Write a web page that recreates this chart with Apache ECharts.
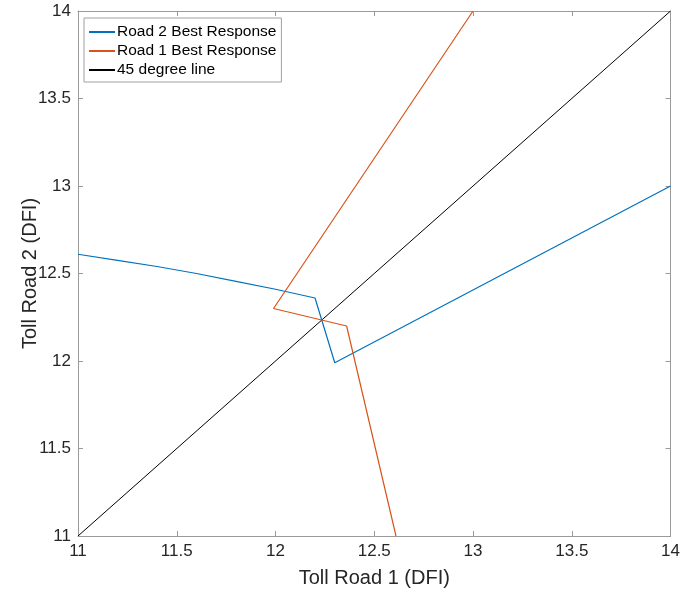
<!DOCTYPE html>
<html>
<head>
<meta charset="utf-8">
<script src="https://cdn.jsdelivr.net/npm/echarts@6/dist/echarts.min.js"></script>
<style>
  html, body { margin: 0; padding: 0; background: #fff; }
  #chart { width: 683px; height: 593px; }
</style>
</head>
<body>
<div id="chart"></div>
<script>
// Best-response curves of the two toll roads (tolls in DFl)
const seriesNames = ['Road 2 Best Response', 'Road 1 Best Response', '45 degree line'];

const road2X = [11.0, 11.2, 11.4, 11.6, 11.8, 12.0, 12.2, 12.3, 14.0];
const road2Y = [12.61, 12.575, 12.54, 12.50, 12.455, 12.41, 12.36, 11.99, 13.0];

const road1X = [13.0, 11.99, 12.36, 12.61];
const road1Y = [14.0, 12.30, 12.20, 11.0];

const diagX = [11, 14];
const diagY = [11, 14];

const tickLabels = ['11', '11.5', '12', '12.5', '13', '13.5', '14'];

const colors = ['#0072BD', '#D95319', '#000000'];

const pairs = (xs, ys) => xs.map((x, i) => [x, ys[i]]);

const font = 'Liberation Sans, Arial, Helvetica, sans-serif';
const axisGrey = '#9a9a9a';
const textColor = '#262626';

function axisBase(position, showLabels, name, extra) {
  return Object.assign({
    type: 'value',
    position: position,
    min: 11,
    max: 14,
    interval: 0.5,
    axisLine: { show: true, onZero: false, lineStyle: { color: axisGrey, width: 1 } },
    axisTick: { show: true, inside: true, length: 5, lineStyle: { color: axisGrey, width: 1 } },
    splitLine: { show: false },
    axisLabel: {
      show: showLabels,
      color: textColor,
      fontFamily: font,
      fontSize: 17,
      margin: 7,
      formatter: (v) => tickLabels.indexOf(String(v)) >= 0 ? String(v) : ''
    },
    name: name,
    nameLocation: 'middle',
    nameMoveOverlap: false,
    nameTextStyle: { color: textColor, fontFamily: font, fontSize: 20 }
  }, extra || {});
}

const chart = echarts.init(document.getElementById('chart'), null, { renderer: 'canvas' });

chart.setOption({
  animation: false,
  backgroundColor: '#ffffff',
  grid: { left: 78, top: 11, right: 11, bottom: 57, containLabel: false },
  xAxis: [
    axisBase('bottom', true, 'Toll Road 1 (DFI)', { nameGap: 32 }),
    axisBase('top', false, '', {})
  ],
  yAxis: [
    axisBase('left', true, 'Toll Road 2 (DFI)', { nameGap: 38 }),
    axisBase('right', false, '', {})
  ],
  legend: {
    data: seriesNames,
    orient: 'vertical',
    left: 84,
    top: 18,
    padding: [6, 5, 4, 4],
    itemWidth: 26,
    itemHeight: 14,
    itemGap: 3,
    itemStyle: { opacity: 0 },
    backgroundColor: '#ffffff',
    borderColor: '#a0a0a0',
    borderWidth: 1,
    borderRadius: 0,
    textStyle: { color: '#000', fontFamily: font, fontSize: 15.5, padding: [0, 0, 0, -3] }
  },
  series: [
    {
      name: seriesNames[0], type: 'line', data: pairs(road2X, road2Y),
      symbol: 'none', color: colors[0], lineStyle: { color: colors[0], width: 1.2 },
      clip: true, z: 3
    },
    {
      name: seriesNames[1], type: 'line', data: pairs(road1X, road1Y),
      symbol: 'none', color: colors[1], lineStyle: { color: colors[1], width: 1.2 },
      clip: true, z: 3
    },
    {
      name: seriesNames[2], type: 'line', data: pairs(diagX, diagY),
      symbol: 'none', color: colors[2], lineStyle: { color: colors[2], width: 1 },
      clip: true, z: 2
    }
  ]
});
</script>
</body>
</html>
